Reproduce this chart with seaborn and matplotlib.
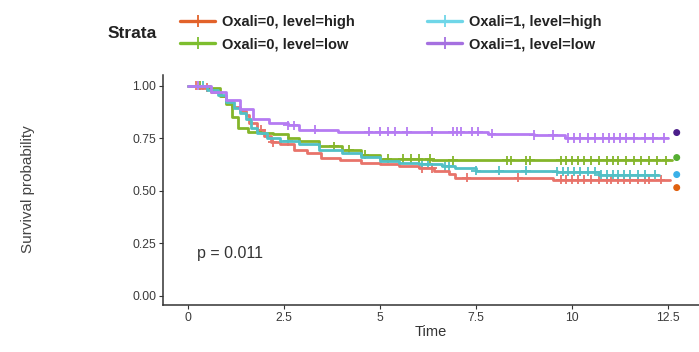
import numpy as np
import pandas as pd
import matplotlib
matplotlib.use("Agg")
import matplotlib.pyplot as plt
from matplotlib.lines import Line2D
import seaborn as sns

sns.set_theme(style="white")
plt.rcParams['font.family'] = ['Liberation Sans', 'DejaVu Sans']

strata = ["Oxali=0, level=high", "Oxali=0, level=low",
          "Oxali=1, level=high", "Oxali=1, level=low"]
line_colors = ["#E8736A", "#84B52A", "#52C0C6", "#B57BF2"]
legend_colors = ["#E2622A", "#7DBE2E", "#6FD6E8", "#A570E0"]
edge_dot_colors = ["#E0600F", "#55AE32", "#3AB0E8", "#4B1E8A"]

# step curves (time, survival)
t_h0 = [0, 0.3, 0.6, 0.85, 1.0, 1.15, 1.35, 1.5, 1.6, 1.8, 1.97, 2.15, 2.4, 2.75,
        3.1, 3.45, 3.96, 4.5, 5.0, 5.5, 6.0, 6.4, 6.8, 6.95, 9.5, 12.55]
s_h0 = [1.0, 0.99, 0.97, 0.95, 0.92, 0.90, 0.88, 0.86, 0.82, 0.79, 0.76, 0.73, 0.72,
        0.695, 0.68, 0.657, 0.643, 0.633, 0.624, 0.615, 0.605, 0.595, 0.58, 0.562,
        0.552, 0.552]
t_l0 = [0, 0.57, 0.83, 1.0, 1.15, 1.3, 1.56, 1.9, 2.2, 2.6, 2.9, 3.4, 4.0, 4.5, 5.0,
        6.35, 12.6]
s_l0 = [1.0, 0.99, 0.95, 0.91, 0.85, 0.80, 0.78, 0.775, 0.77, 0.75, 0.735, 0.71,
        0.695, 0.67, 0.652, 0.643, 0.643]
t_h1 = [0, 0.5, 0.78, 1.0, 1.2, 1.35, 1.5, 1.65, 1.8, 2.05, 2.4, 2.9, 3.4, 4.0, 4.5,
        5.0, 5.5, 6.0, 6.6, 6.95, 7.5, 9.6, 10.7, 12.25]
s_h1 = [1.0, 0.98, 0.957, 0.92, 0.895, 0.87, 0.84, 0.80, 0.776, 0.75, 0.735, 0.72,
        0.695, 0.68, 0.66, 0.64, 0.63, 0.625, 0.615, 0.605, 0.595, 0.59, 0.576, 0.576]
t_l1 = [0, 0.6, 1.0, 1.35, 1.7, 2.1, 2.6, 2.9, 3.9, 7.8, 9.0, 9.8, 12.5]
s_l1 = [1.0, 0.97, 0.93, 0.886, 0.84, 0.82, 0.81, 0.79, 0.78, 0.77, 0.765, 0.75, 0.75]

# censoring times
c_h0 = [0.2, 0.5, 1.9, 2.2, 6.1, 6.35, 7.25, 8.6, 9.7, 9.85, 10.0, 10.15, 10.3, 10.5,
        10.7, 10.9, 11.0, 11.2, 11.35, 11.5, 11.7, 11.9, 12.0, 12.3]
c_l0 = [0.3, 3.8, 4.2, 4.6, 5.2, 5.6, 5.8, 6.0, 6.3, 6.9, 8.3, 8.4, 8.8, 8.9, 9.7,
        9.85, 10.0, 10.15, 10.3, 10.5, 10.7, 10.9, 11.05, 11.2, 11.4, 11.6, 11.8,
        12.0, 12.2, 12.45]
c_h1 = [0.4, 2.6, 6.1, 6.25, 6.7, 6.8, 7.5, 8.1, 8.8, 9.6, 9.75, 9.9, 10.05, 10.2,
        10.4, 10.6, 10.75, 10.9, 11.05, 11.2, 11.35, 11.5, 11.7, 11.9, 12.15]
c_l1 = [0.25, 2.6, 2.75, 3.3, 4.7, 5.0, 5.2, 5.4, 5.7, 6.35, 6.9, 7.0, 7.1, 7.4,
        7.55, 7.9, 9.0, 9.5, 9.9, 10.05, 10.2, 10.4, 10.6, 10.8, 10.95, 11.1, 11.25,
        11.4, 11.6, 11.9, 12.1, 12.4]

edge_vals = [0.514, 0.657, 0.576, 0.776]

curves = [(t_h0, s_h0, c_h0), (t_l0, s_l0, c_l0), (t_h1, s_h1, c_h1), (t_l1, s_l1, c_l1)]

rows, crows = [], []
for name, (t, s, c) in zip(strata, curves):
    for ti, si in zip(t, s):
        rows.append((name, ti, si))
    t_arr, s_arr = np.array(t), np.array(s)
    for ci in c:
        idx = np.searchsorted(t_arr, ci, side="right") - 1
        crows.append((name, ci, s_arr[idx]))
df = pd.DataFrame(rows, columns=["strata", "time", "surv"])
cdf = pd.DataFrame(crows, columns=["strata", "time", "surv"])
pal = dict(zip(strata, line_colors))

fig = plt.figure(figsize=(6.99, 3.52), dpi=100)
ax = fig.add_axes([163 / 699, 1 - 305 / 352, (699 - 163) / 699, (305 - 75) / 352])

sns.lineplot(data=df, x="time", y="surv", hue="strata", palette=pal,
             drawstyle="steps-post", estimator=None, linewidth=2.0, ax=ax,
             legend=False)
sns.scatterplot(data=cdf, x="time", y="surv", hue="strata", palette=pal,
                marker="+", s=45, linewidth=1.3, ax=ax, legend=False)

ax.scatter([12.72] * 4, edge_vals, c=edge_dot_colors, s=16, marker="o",
           clip_on=False, zorder=5)

ax.set_xlim(-0.65, 13.3)
ax.set_ylim(-0.045, 1.05)
ax.set_xticks([0, 2.5, 5, 7.5, 10, 12.5])
ax.set_xticklabels(["0", "2.5", "5", "7.5", "10", "12.5"])
ax.set_yticks([0, 0.25, 0.5, 0.75, 1.0])
ax.set_yticklabels(["0.00", "0.25", "0.50", "0.75", "1.00"])
ax.tick_params(axis="both", which="both", length=3, width=0.8, color="#333333",
               labelsize=8.8, labelcolor="#3A3A3A", pad=2, bottom=True, left=True)
for side in ["top", "right"]:
    ax.spines[side].set_visible(False)
for side in ["left", "bottom"]:
    ax.spines[side].set_color("#333333")
    ax.spines[side].set_linewidth(1.1)

ax.set_xlabel("Time", fontsize=10.5, color="#333333", labelpad=1)
ax.set_ylabel("")
fig.text(28 / 699, 1 - 189 / 352, "Survival probability", rotation=90,
         ha="center", va="center", fontsize=11, color="#444444")

ax.text(0.23, 0.2, "p = 0.011", fontsize=11.5, color="#333333", va="center",
        ha="left")

handles = [Line2D([0], [0], color=c, lw=2.4, marker="|", markersize=9,
                  markeredgewidth=1.3) for c in legend_colors]
fig.text(108 / 699, 1 - 34 / 352, "Strata", fontsize=12.5, fontweight="bold",
         color="#222222", va="center", ha="left")
leg = fig.legend(handles, strata, loc="center left",
                 bbox_to_anchor=(167 / 699, 1 - 33.5 / 352), ncol=2, frameon=False,
                 prop={"size": 10.5, "weight": "bold"}, handlelength=2.4,
                 handletextpad=0.45, columnspacing=5.0, labelspacing=0.55)
for txt in leg.get_texts():
    txt.set_color("#222222")

fig.savefig("out.png", dpi=100)
